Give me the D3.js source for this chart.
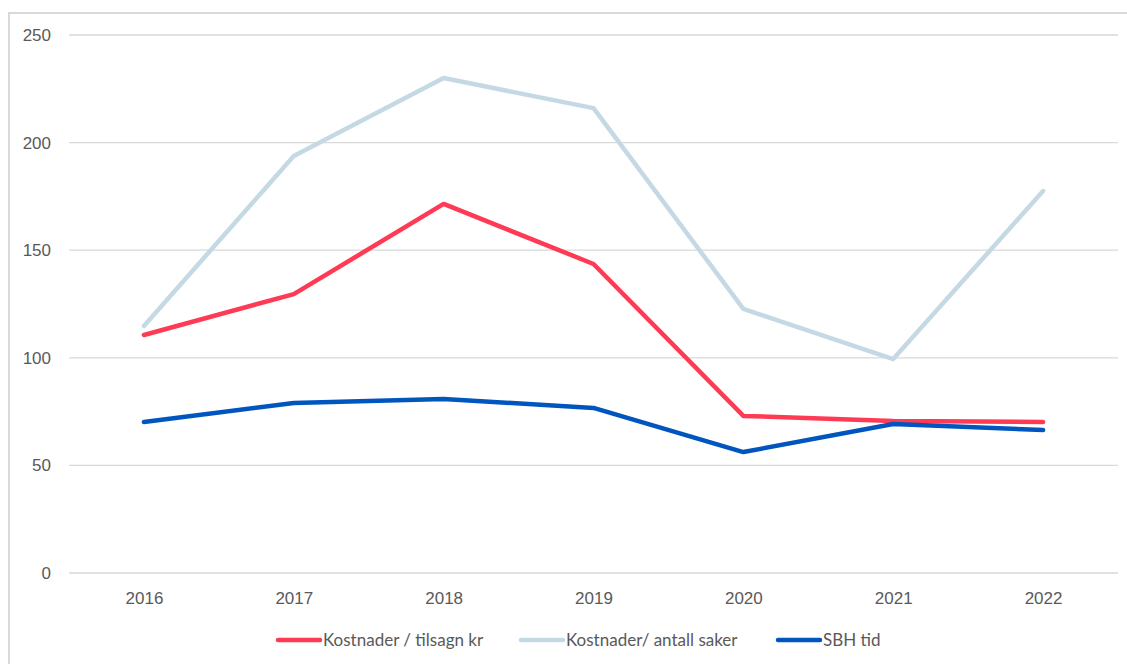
<!DOCTYPE html>
<html>
<head>
<meta charset="utf-8">
<script src="https://cdn.jsdelivr.net/npm/d3@7"></script>
<style>
  body { margin: 0; background: #fff; }
  svg { display: block; font-family: Lato, "Open Sans", sans-serif; }
</style>
</head>
<body>
<div id="chart"></div>
<script>
// chart data
var years = ["2016", "2017", "2018", "2019", "2020", "2021", "2022"];
var tilsagn = [110.6, 129.6, 171.5, 143.6, 73, 70.6, 70.2];
var antallSaker = [114.8, 193.8, 230, 216, 122.7, 99.4, 177.5];
var sbhTid = [70.2, 79, 80.9, 76.7, 56.2, 69.2, 66.4];
var yTicks = [0, 50, 100, 150, 200, 250];

var series = [
    { name: "Kostnader / tilsagn kr", values: tilsagn, color: "#ff3a55" },
    { name: "Kostnader/ antall saker", values: antallSaker, color: "#c5d9e5" },
    { name: "SBH tid", values: sbhTid, color: "#0055bf" }
];

var svgWidth = 1127;
var svgHeight = 664;

var margin = { top: 35, right: 9, bottom: 91, left: 69 };
var chartWidth = svgWidth - margin.left - margin.right;
var chartHeight = svgHeight - margin.top - margin.bottom;

var svg = d3.select("#chart")
    .append("svg")
    .attr("width", svgWidth)
    .attr("height", svgHeight);

// outer frame
svg.append("rect")
    .attr("x", 9)
    .attr("y", 13)
    .attr("width", svgWidth + 20)
    .attr("height", svgHeight + 20)
    .attr("fill", "none")
    .attr("stroke", "#d9d9d9")
    .attr("stroke-width", 2);

var chartGroup = svg.append("g")
    .attr("transform", `translate(${margin.left}, ${margin.top})`);

var xScale = d3.scalePoint()
    .domain(years)
    .range([0, chartWidth])
    .padding(0.5);

var yScale = d3.scaleLinear()
    .domain([0, 250])
    .range([chartHeight, 0]);

// gridlines
chartGroup.append("g")
    .selectAll("line")
    .data(yTicks)
    .enter()
    .append("line")
    .attr("x1", 0)
    .attr("x2", chartWidth)
    .attr("y1", d => yScale(d))
    .attr("y2", d => yScale(d))
    .attr("stroke", "#d9d9d9")
    .attr("stroke-width", 1.3);

// y axis labels
var leftAxis = d3.axisLeft(yScale).tickValues(yTicks).tickSize(0).tickPadding(18);
var yAxis = chartGroup.append("g").call(leftAxis);
yAxis.select(".domain").remove();
yAxis.selectAll("text")
    .attr("fill", "#595959")
    .style("font-size", "17px");

// x axis labels
var bottomAxis = d3.axisBottom(xScale).tickSize(0).tickPadding(19);
var xAxis = chartGroup.append("g")
    .attr("transform", `translate(0, ${chartHeight})`)
    .call(bottomAxis);
xAxis.select(".domain").remove();
xAxis.selectAll("text")
    .attr("fill", "#595959")
    .style("font-size", "17px");

var line = d3.line()
    .x((d, i) => xScale(years[i]))
    .y(d => yScale(d));

// draw light blue first, then red, then blue on top
[series[1], series[0], series[2]].forEach(function (s) {
    chartGroup.append("path")
        .datum(s.values)
        .attr("d", line)
        .attr("fill", "none")
        .attr("stroke", s.color)
        .attr("stroke-width", 4.5)
        .attr("stroke-linejoin", "round")
        .attr("stroke-linecap", "round");
});

// legend
var legendX = [278, 521, 778];
var legend = svg.append("g")
    .selectAll("g")
    .data(series)
    .enter()
    .append("g")
    .attr("transform", (d, i) => `translate(${legendX[i]}, 640)`);

legend.append("line")
    .attr("x1", 0)
    .attr("x2", 42)
    .attr("stroke", d => d.color)
    .attr("stroke-width", 4.5)
    .attr("stroke-linecap", "round");

legend.append("text")
    .attr("x", 45)
    .attr("dy", "0.35em")
    .attr("fill", "#595959")
    .style("font-size", "17px")
    .text(d => d.name);
</script>
</body>
</html>
